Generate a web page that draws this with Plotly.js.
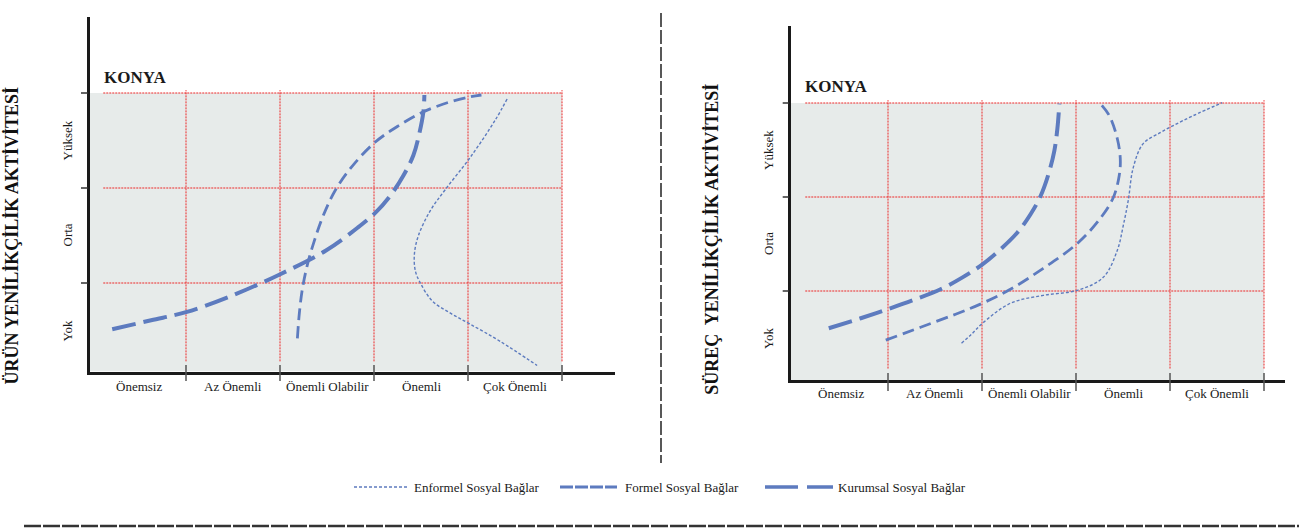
<!DOCTYPE html>
<html><head><meta charset="utf-8">
<script src="https://cdn.plot.ly/plotly-3.0.1.min.js"></script>
<style>html,body{margin:0;padding:0;background:#fff}#chart{width:1299px;height:529px}</style>
</head><body><div id="chart"></div>
<script>
// ---------------- DATA ----------------
const xCategories = ['Önemsiz', 'Az Önemli', 'Önemli Olabilir', 'Önemli', 'Çok Önemli'];
const yLevels = ['Yok', 'Orta', 'Yüksek'];
const seriesNames = ['Enformel Sosyal Bağlar', 'Formel Sosyal Bağlar', 'Kurumsal Sosyal Bağlar'];
const panelTitles = ['ÜRÜN YENİLİKÇİLİK AKTİVİTESİ', 'SÜREÇ\u00a0 YENİLİKÇİLİK AKTİVİTESİ'];
const panelLabel = 'KONYA';

// Left panel: Ürün yenilikçilik aktivitesi
const urunKurumsalX = [0.215, 0.629, 1.000, 1.477, 2.008, 2.485, 2.825, 3.016, 3.175, 3.313, 3.419, 3.483, 3.525, 3.536];
const urunKurumsalY = [0.513, 0.608, 0.693, 0.862, 1.095, 1.339, 1.582, 1.741, 1.921, 2.132, 2.344, 2.577, 2.799, 2.979];
const urunFormelX = [2.185, 2.206, 2.238, 2.291, 2.365, 2.460, 2.587, 2.767, 3.011, 3.254, 3.519, 3.804, 4.016, 4.143];
const urunFormelY = [0.418, 0.683, 0.937, 1.190, 1.444, 1.709, 1.974, 2.228, 2.481, 2.651, 2.799, 2.905, 2.958, 2.979];
const urunEnformelX = [4.416, 4.289, 4.024, 3.759, 3.599, 3.472, 3.430, 3.440, 3.493, 3.621, 3.812, 4.024, 4.342, 4.735];
const urunEnformelY = [2.937, 2.714, 2.323, 1.984, 1.762, 1.497, 1.307, 1.127, 1.000, 0.810, 0.683, 0.566, 0.386, 0.132];

// Right panel: Süreç yenilikçilik aktivitesi
const surecKurumsalX = [0.370, 0.710, 0.997, 1.294, 1.559, 1.793, 2.005, 2.196, 2.377, 2.515, 2.621, 2.706, 2.770, 2.802, 2.823];
const surecKurumsalY = [0.604, 0.710, 0.806, 0.912, 1.018, 1.145, 1.283, 1.443, 1.623, 1.814, 2.005, 2.239, 2.494, 2.728, 2.993];
const surecFormelX = [0.976, 1.347, 1.719, 2.005, 2.302, 2.652, 3.014, 3.258, 3.397, 3.460, 3.471, 3.439, 3.354, 3.248];
const surecFormelY = [0.477, 0.615, 0.753, 0.870, 1.018, 1.241, 1.506, 1.772, 1.995, 2.229, 2.409, 2.622, 2.866, 3.004];
const surecEnformelX = [1.782, 1.878, 2.005, 2.302, 2.653, 3.014, 3.290, 3.439, 3.503, 3.556, 3.609, 3.715, 3.896, 4.034, 4.246, 4.554];
const surecEnformelY = [0.445, 0.530, 0.657, 0.869, 0.954, 1.007, 1.145, 1.432, 1.697, 1.963, 2.313, 2.568, 2.685, 2.759, 2.865, 3.003];

// ---------------- STYLE / LAYOUT ----------------
const W = 1299, H = 529;
const PX = p => p / W;
const PY = p => 1 - p / H;
const SERIF = 'Liberation Serif, Times New Roman, serif';
const LINE = '#5d7bbf';
const GRID = 'rgb(236,40,40)';
const SHADE = '#e7ebea';
const styles = {
  enf: {width: 1.4, dash: '3px,2px'},
  form: {width: 2.8, dash: '12px,6px'},
  kur: {width: 4, dash: '24px,8px'}
};

const panels = [
  {xa: 'x', ya: 'y', xRange: [-0.02660, 5.56383], yRange: [0.06842, 3.80000],
   xDom: [PX(89.5), PX(615)], yDom: [PY(371.5), PY(17)],
   tickTop: 365, tickBot: 381, yTickL: 81, yTickR: 88, xLabY: 386, yLabX: 67,
   titleX: 12, titleY: 236.5, konyaX: 102, konyaY: 77.5,
   kx: urunKurumsalX, ky: urunKurumsalY, fx: urunFormelX, fy: urunFormelY, ex: urunEnformelX, ey: urunEnformelY},
  {xa: 'x2', ya: 'y2', xRange: [-0.03404, 5.22341], yRange: [0.05106, 3.81915],
   xDom: [PX(790.8), PX(1285)], yDom: [PY(380.2), PY(26)],
   tickTop: 373, tickBot: 391, yTickL: 782.7, yTickR: 789, xLabY: 393, yLabX: 768,
   titleX: 711.7, titleY: 239, konyaX: 803, konyaY: 86,
   kx: surecKurumsalX, ky: surecKurumsalY, fx: surecFormelX, fy: surecFormelY, ex: surecEnformelX, ey: surecEnformelY}
];

const traces = [];
const shapes = [];
const annotations = [];

panels.forEach((p, pi) => {
  const nCat = xCategories.length;
  const nLev = yLevels.length;
  // shaded background
  shapes.push({type: 'rect', xref: p.xa, yref: p.ya, x0: p.xRange[0], x1: nCat, y0: p.yRange[0], y1: nLev,
    fillcolor: SHADE, line: {width: 0}, layer: 'below'});
  // horizontal grid
  for (let j = 1; j <= nLev; j++) {
    shapes.push({type: 'line', xref: p.xa, yref: p.ya, x0: 0.12, x1: nCat, y0: j, y1: j,
      line: {color: GRID, width: 1, dash: '2px,1px'}, layer: 'below'});
  }
  // vertical grid
  for (let i = 1; i <= nCat; i++) {
    shapes.push({type: 'line', xref: p.xa, yref: p.ya, x0: i, x1: i, y0: 0.175, y1: nLev + 0.03,
      line: {color: GRID, width: 1, dash: '2px,1px'}, layer: 'below'});
  }
  // y ticks
  for (let j = 1; j <= nLev; j++) {
    shapes.push({type: 'line', xref: 'paper', yref: p.ya, x0: PX(p.yTickL), x1: PX(p.yTickR), y0: j, y1: j,
      line: {color: '#333333', width: 1.5}});
  }
  // x ticks
  for (let i = 1; i <= nCat; i++) {
    shapes.push({type: 'line', xref: p.xa, yref: 'paper', x0: i, x1: i, y0: PY(p.tickBot), y1: PY(p.tickTop),
      line: {color: '#555555', width: 1.5}});
  }
  // x category labels
  xCategories.forEach((c, i) => annotations.push({
    xref: p.xa, yref: 'paper', x: i + 0.5, y: PY(p.xLabY), text: c, showarrow: false,
    xanchor: 'center', yanchor: 'middle', font: {family: SERIF, size: 13, color: '#1a1a1a'}}));
  // y level labels
  yLevels.forEach((l, j) => annotations.push({
    xref: 'paper', yref: p.ya, x: PX(p.yLabX), y: j + 0.5, text: l, showarrow: false, textangle: -90,
    xanchor: 'center', yanchor: 'middle', font: {family: SERIF, size: 13, color: '#1a1a1a'}}));
  // axis title
  annotations.push({xref: 'paper', yref: 'paper', x: PX(p.titleX), y: PY(p.titleY), text: '<b>' + panelTitles[pi] + '</b>',
    showarrow: false, textangle: -90, xanchor: 'center', yanchor: 'middle', font: {family: SERIF, size: 18, color: '#111111'}});
  // KONYA
  annotations.push({xref: 'paper', yref: 'paper', x: PX(p.konyaX), y: PY(p.konyaY), text: '<b>' + panelLabel + '</b>',
    showarrow: false, xanchor: 'left', yanchor: 'middle', font: {family: SERIF, size: 17, color: '#1a1a1a'}});
  // curves
  const common = {type: 'scatter', mode: 'lines', xaxis: p.xa, yaxis: p.ya, hoverinfo: 'skip', showlegend: false};
  traces.push(Object.assign({}, common, {name: seriesNames[2], x: p.kx, y: p.ky,
    line: {color: LINE, width: styles.kur.width, dash: styles.kur.dash, shape: 'spline', smoothing: 1}}));
  traces.push(Object.assign({}, common, {name: seriesNames[1], x: p.fx, y: p.fy,
    line: {color: LINE, width: styles.form.width, dash: styles.form.dash, shape: 'spline', smoothing: 1}}));
  traces.push(Object.assign({}, common, {name: seriesNames[0], x: p.ex, y: p.ey,
    line: {color: LINE, width: styles.enf.width, dash: styles.enf.dash, shape: 'spline', smoothing: 1}}));
});

// separator & bottom rule
shapes.push({type: 'line', xref: 'paper', yref: 'paper', x0: PX(661), x1: PX(661), y0: PY(13), y1: PY(463),
  line: {color: '#222222', width: 1.5, dash: '14px,3px'}});
shapes.push({type: 'line', xref: 'paper', yref: 'paper', x0: PX(24), x1: PX(1299), y0: PY(526), y1: PY(526),
  line: {color: '#333333', width: 2.5, dash: '17px,2px'}});

// custom legend
const legendItems = [
  {x0: 354, x1: 408, tx: 412, dash: '3px,2px', w: 1.4},
  {x0: 560, x1: 617, tx: 623, dash: '13px,2px', w: 2.8},
  {x0: 765, x1: 833, tx: 836, dash: '33px,9px', w: 3.5}
];
legendItems.forEach((it, k) => {
  shapes.push({type: 'line', xref: 'paper', yref: 'paper', x0: PX(it.x0), x1: PX(it.x1), y0: PY(487), y1: PY(487),
    line: {color: LINE, width: it.w, dash: it.dash}});
  annotations.push({xref: 'paper', yref: 'paper', x: PX(it.tx), y: PY(487), text: seriesNames[k], showarrow: false,
    xanchor: 'left', yanchor: 'middle', font: {family: SERIF, size: 13, color: '#1a1a1a'}});
});

const axBase = {showline: true, linewidth: 3, linecolor: '#1a1a1a', showgrid: false, zeroline: false,
  showticklabels: false, ticks: '', fixedrange: true};

const layout = {
  width: W, height: H, margin: {l: 0, r: 0, t: 0, b: 0, pad: 0},
  font: {family: SERIF},
  paper_bgcolor: '#ffffff', plot_bgcolor: 'rgba(0,0,0,0)', showlegend: false,
  xaxis: Object.assign({}, axBase, {domain: panels[0].xDom, range: panels[0].xRange, anchor: 'y'}),
  yaxis: Object.assign({}, axBase, {domain: panels[0].yDom, range: panels[0].yRange, anchor: 'x'}),
  xaxis2: Object.assign({}, axBase, {domain: panels[1].xDom, range: panels[1].xRange, anchor: 'y2'}),
  yaxis2: Object.assign({}, axBase, {domain: panels[1].yDom, range: panels[1].yRange, anchor: 'x2'}),
  shapes: shapes, annotations: annotations
};

Plotly.newPlot('chart', traces, layout, {displayModeBar: false, staticPlot: true});
</script>
</body></html>
